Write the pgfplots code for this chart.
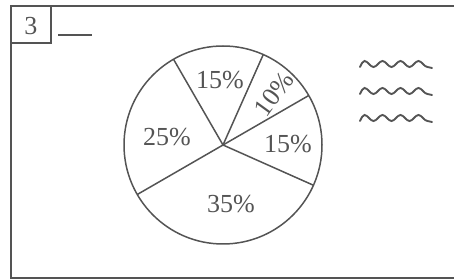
\documentclass[border=0pt]{standalone}
\usepackage{pgfplots}
\pgfplotsset{compat=1.18}
\usepgfplotslibrary{polar}
\usepackage{fontspec}
\setmainfont{Liberation Serif}
\definecolor{ink}{gray}{0.33}
\begin{document}
\begin{tikzpicture}[x=0.4pt,y=0.4pt]
\useasboundingbox (0,0) rectangle (454,280);
\begin{scope}
\clip (0,0) rectangle (454,280);
% outer frame
\draw[ink,line width=0.6pt] (470,274) -- (11,274) -- (11,2) -- (470,2);
% number box
\draw[ink,line width=0.6pt] (11,237) -- (51,237) -- (51,274);
\node[ink,font=\fontsize{10.4}{12}\selectfont] at (31,254) {3};
\draw[ink,line width=0.6pt] (58,245) -- (92,245);
% wavy lines
\foreach \yy in {216,189,162}{
  \draw[ink,line width=0.75pt,line cap=round] (360,\yy-3)
    sin (364.5,\yy+3) cos (369,\yy) sin (373.5,\yy-3) cos (378,\yy)
    sin (382.5,\yy+3) cos (387,\yy) sin (391.5,\yy-3) cos (396,\yy)
    sin (400.5,\yy+3) cos (405,\yy) sin (409.5,\yy-3) cos (414,\yy)
    sin (418.5,\yy+3) cos (423,\yy) sin (427.5,\yy-3) cos (432,\yy-4);
}
\end{scope}
\begin{polaraxis}[
  at={(89.2pt,54pt)}, anchor=center,
  scale only axis, width=79.2pt, height=79.2pt,
  ymin=0, ymax=1,
  xtick=\empty, ytick=\empty,
  grid=none,
  axis line style={ink,line width=0.6pt},
  y axis line style={draw=none},
  clip=false,
]
\addplot[ink,line width=0.6pt] coordinates {(120,0) (120,1)};
\addplot[ink,line width=0.6pt] coordinates {(210,0) (210,1)};
\addplot[ink,line width=0.6pt] coordinates {(336,0) (336,1)};
\addplot[ink,line width=0.6pt] coordinates {(30,0) (30,1)};
\addplot[ink,line width=0.6pt] coordinates {(66,0) (66,1)};
\end{polaraxis}
\begin{scope}[every node/.style={ink,inner sep=0pt,font=\fontsize{10.4}{12}\selectfont}]
\node at (220,200) {15\%};
\node[rotate=54] at (274,186) {10\%};
\node at (288,136) {15\%};
\node at (231,76) {35\%};
\node at (167,143) {25\%};
\end{scope}
\end{tikzpicture}
\end{document}
